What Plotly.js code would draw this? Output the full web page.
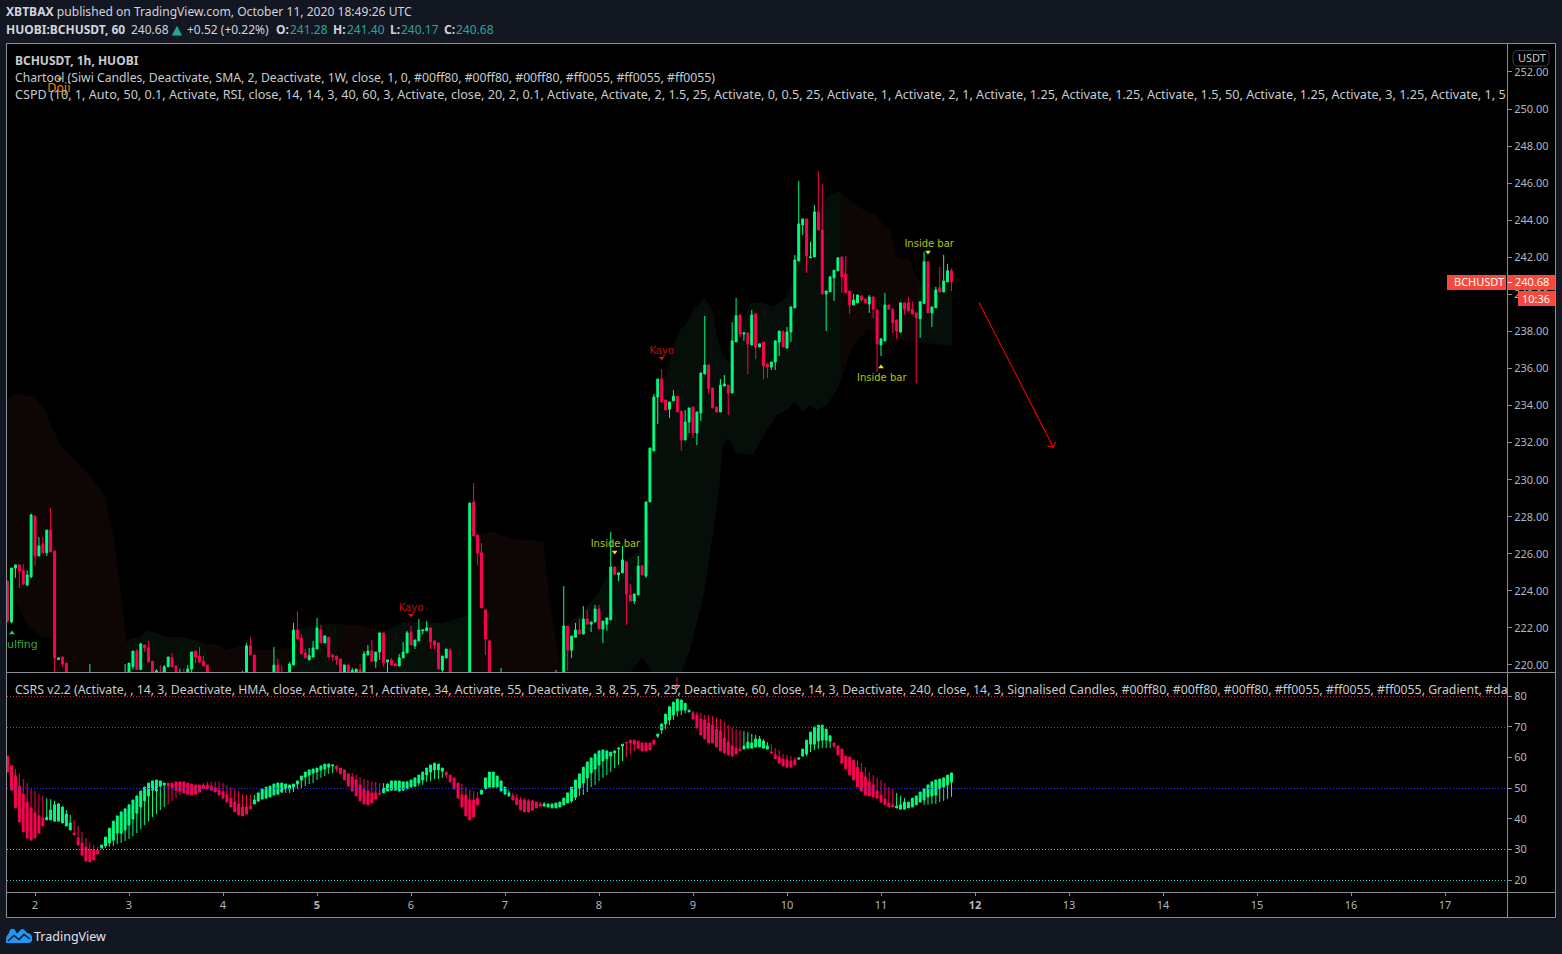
<!DOCTYPE html>
<html><head><meta charset="utf-8">
<script src="https://cdn.plot.ly/plotly-3.0.1.min.js"></script>
<style>html,body{margin:0;padding:0;background:#131722;overflow:hidden}#c{width:1562px;height:954px}</style>
</head><body><div id="c"></div>
<script>
// ---------- price candles (bar 0 .. 241) ----------
const opens=[224.53,222.32,225.23,225.4,225.1,224.3,224.75,228.04,225.88,226.53,
226.05,227.28,226.15,220.3,220.43,220.1,219.3,218.9,218.6,218.8,
218.5,218.9,219.3,218.8,218.6,218.7,218.5,218.6,218.4,218.7,
219,219.4,219.9,220.75,219.75,221.08,220.92,220.2,219.4,219.6,
219.3,219.9,220.38,219.95,219.4,219.55,219.3,219.78,220.75,220.48,
220.2,220,219.4,219.1,218.9,219,218.8,218.6,218.8,218.7,
219.1,219.5,221.03,220.54,219.4,219.1,218.9,219.1,219.5,220,
219.5,219.3,219.2,220,221.89,221.46,220.65,220.27,220.43,220.86,
221.89,221.19,221.5,220.54,220.48,220.32,219.5,220,219.5,219.5,
219.73,219.6,220.54,220.75,220.2,220.7,221.73,220.16,220.27,220.05,
219.95,220.38,220.65,221.78,221.03,221.3,221.84,221.84,222,221.3,
221.19,219.73,220.38,220.8,219.4,219,218.8,218.7,219.1,228.8,
227,226.05,222.97,221.3,219.3,218.9,218.7,219.4,219,218.8,
218.6,218.9,218.7,218.5,218.3,218.6,218.4,218.7,218.9,219.2,
218.9,219.1,219.3,222.1,220.8,221.5,221.89,221.67,222.48,222.2,
222.32,223.02,221.94,222.2,222.43,225.29,224.86,224.97,225.56,223.78,
223.45,223.78,225.34,224.8,228.8,231.55,234.46,235.43,234.3,233.8,
234.25,234.5,233.7,232.14,233.11,233.92,232.52,233.6,235.7,236.19,
234.95,233.92,233.65,235.05,235.1,234.68,237.43,238.89,237.86,237.92,
237.27,238.95,237.16,237.43,236.24,236.08,236.35,237.43,237.97,237.1,
237.97,239.27,241.8,243.74,244.07,241.97,242.02,244.45,243.48,240.02,
240.13,240.89,241.27,242.02,241.1,240.18,239.43,239.54,239.9,239.75,
239.48,239.86,239.16,237.27,237.49,239.43,239.2,238.62,237.97,239.54,
239.54,239.2,239,238.68,239.5,241.76,239,239.27,240.35,240.13,
240.67,241.28];
const highs=[224.53,225.23,225.4,225.4,225.45,225.1,228.15,228.04,226.9,226.9,
227.28,228.47,226.15,220.38,220.43,220.1,219.5,219.2,219,219.2,
219,220.05,219.5,219.1,219,219.1,218.9,219,218.9,219.2,
220.05,220.1,220.75,220.85,221.2,221.08,221.3,220.2,219.78,220,
220,220.43,220.65,219.95,219.8,219.8,220,220.7,220.75,220.97,
220.48,220,219.5,219.4,219.3,219.4,219.1,219,219.2,219.2,
219.68,221.19,221.5,220.54,219.5,219.4,219.3,219.5,220.97,220.32,
219.95,219.5,220.16,222.27,222.9,221.67,220.86,220.92,221.3,222.54,
222.16,221.62,221.5,220.54,220.48,220.32,220,220,219.84,219.78,
220.05,220.75,221.08,221.35,220.7,221.73,221.73,220.27,220.38,220.1,
220.6,221.24,221.84,222.1,221.35,222.48,221.89,222.37,222,221.3,
221.19,220.48,220.86,220.92,219.5,219.3,219.1,219.2,228.74,229.82,
227.05,226.58,222.97,221.3,219.4,219.2,219.84,219.5,219.3,219.1,
219,219.2,219,218.9,218.8,219,218.8,219.1,219.3,219.5,
219.73,219.4,224.26,222.1,221.56,222.27,222.48,223.18,222.97,222.32,
223.24,223.24,222.37,222.54,227.18,225.29,224.97,226.42,225.56,224.37,
223.83,225.88,225.4,228.8,231.71,234.62,235.43,235.97,234.3,234.19,
234.84,234.5,233.7,233.76,233.87,233.92,233.65,235.76,238.84,236.19,
234.95,233.92,235.43,235.65,235.1,238.5,239.8,238.89,237.92,237.92,
239.16,238.95,237.33,237.43,236.24,236.35,237.49,238.02,238.08,238.24,
239.32,242.13,246.12,244.07,244.07,242.83,244.83,246.66,245.96,240.18,
241,241.3,242.02,242.02,242.07,240.18,240.02,239.97,239.97,239.75,
239.97,239.86,239.16,237.6,240.08,239.43,239.2,238.62,239.54,239.54,
239.86,239.6,239,239.6,242.3,241.76,239.32,240.4,241.48,242.13,
241.65,241.4];
const lows=[222.3,222.25,224.7,224.15,224.3,224.3,224.7,225.35,225.88,226.05,
225.88,226.1,219.3,220.3,219.9,218.9,218.7,218.4,218.2,218.3,
218.1,218.6,218.6,218.4,218.2,218.2,218,218.2,218.1,218.4,
218.8,219.2,219.75,219.75,219.75,220.7,220.16,219.2,219.2,219,
219.1,219.9,219.85,219.1,219.1,219.1,219.1,219.6,220.1,220.1,
219.95,219.1,218.9,218.7,218.6,218.7,218.4,218.3,218.5,218.5,
218.9,219.3,220.54,219.1,218.9,218.7,218.6,218.8,219.3,219.2,
219.1,219,219,220,221.4,220.6,220.38,220.27,220.43,220.86,
221.19,221.19,220.43,220.2,220,219.2,219.3,219.2,219.1,219.3,
219.3,219.5,220.54,220.2,219.84,220.27,219.9,219.6,220,219.95,
219.95,220.38,220.65,221.08,220.86,221.3,221.67,221.84,220.86,220.86,
219.78,219.6,220.38,218.9,218.8,218.5,218.4,218.5,218.9,226.96,
225.4,223.08,220.54,218.8,218.6,218.5,218.5,218.7,218.6,218.4,
218.3,218.5,218.4,218.1,218,218.3,218,218.4,218.6,218.8,
218.7,218.8,219.2,219.68,220.38,221.5,221.67,221.67,222.2,221.78,
222.32,221.94,221.19,221.84,222.43,224.86,224.53,224.97,222.16,223.45,
223.29,223.78,224.86,224.7,228.8,231.55,233,234.19,233.76,233.33,
234.25,233.65,231.55,232.14,232.52,232.25,231.87,233.17,235.7,234.62,
233.87,233.65,233.65,235.05,233.49,234.68,237.43,237.7,237.49,235.7,
237.27,236.5,237.16,235.43,235.49,235.92,235.92,236.67,237.16,237.1,
237.43,239.27,241.8,243.2,241.15,241.97,242.02,243.48,240.02,238.02,
240.13,239.64,241.27,240.08,240.08,238.94,239.43,239.54,239.6,239.54,
239,238.73,235.81,236.67,237.49,239.2,237.92,237.6,237.92,238.9,
239.1,238.94,235.2,237.65,239.5,239,238.24,239.27,240.13,240.13,
240.67,240.17];
const closes=[222.37,225.23,225.4,225.07,224.37,224.86,228.1,225.88,226.42,226.05,
227.28,226.1,220.38,220.38,220.05,219.3,218.9,218.6,218.8,218.5,
218.9,219.3,218.8,218.6,218.7,218.5,218.6,218.4,218.7,219,
219.4,220.1,220.75,219.75,221.13,220.92,220.16,219.4,219.68,219.3,
219.9,220.43,219.9,219.4,219.55,219.3,219.78,220.7,220.43,220.16,
219.95,219.4,219.1,218.9,219,218.8,218.6,218.8,218.7,219.1,
219.4,221.03,220.54,219.4,219.1,218.9,219.1,219.5,220,219.5,
219.3,219.2,220.05,221.89,221.4,220.6,220.38,220.5,220.92,222,
221.19,221.56,220.43,220.43,220.27,219.5,220,219.5,219.7,219.78,
219.5,220.6,220.75,220.2,220.7,221.73,220.1,220.27,220,219.95,
220.38,220.7,221.73,221.08,221.35,221.89,221.89,222,221.24,221.08,
219.78,220.48,220.86,219.4,219,218.8,218.7,219.1,228.74,226.96,
226.05,223.08,221.4,219.3,218.9,218.7,219.4,219,218.8,218.6,
218.9,218.7,218.5,218.3,218.6,218.4,218.7,218.9,219.2,218.9,
219.1,219.3,222.1,220.8,221.56,221.89,221.67,222.48,222.2,222.32,
223.02,221.94,222.37,222.54,225.29,224.9,224.97,225.67,223.83,223.45,
223.83,225.34,224.86,228.8,231.71,234.46,235.43,234.19,233.76,234.19,
234.5,233.65,232.14,233.11,233.87,232.52,233.65,235.76,236.19,234.9,
233.87,233.65,235.1,235.16,234.68,237.49,238.84,237.86,237.92,237.33,
238.89,237.16,237.33,236.14,236.08,236.35,237.49,238.02,237.16,237.97,
239.32,241.86,243.8,244.07,242.07,242.02,244.45,243.48,240.02,240.18,
240.94,241.3,241.97,240.94,240.08,239.43,239.7,239.97,239.7,239.54,
239.86,239.2,237.33,237.6,239.43,239.2,238.46,238.02,239.54,239.2,
239.1,238.94,238.73,239.6,241.76,239,239.32,240.24,240.13,240.72,
241.27,240.68];

// ---------- CSRS oscillator candles ----------
const rsiOpen=[60.4,57.2,53.9,50.6,48,45.4,43.5,41.8,40.9,40.2,
39.6,39.6,39.2,39.2,38.6,37.6,36.3,35.3,33.7,32,
30.8,29.8,29.8,29.8,30.4,31.1,32.1,33,35.3,35.3,
36.3,37.9,39.9,41.8,43.8,45.8,47.4,49.3,49,50.6,
51,51.6,51.6,52,52,52,51.6,51.3,51,51,
51,51,50.6,50,49.3,48.7,47.7,46.7,45.4,44.8,
43.8,43.8,44.1,44.8,45.7,46.4,46.7,47.1,47.7,48,
48.7,49.7,49.7,50.3,51.3,52.6,53.6,54.2,54.9,55.2,
55.9,56.2,56.8,57.2,57.2,56.5,55.9,54.6,53.6,52.6,
51,49.7,49,48.4,48.4,48.4,48.4,49,49.3,49.3,
49,49.3,49.7,50.3,50.6,51.6,52.6,54.2,55.2,55.9,
55.9,55.5,55.2,54.2,53.3,51.6,47.7,47.7,46.1,46.1,
46.7,48,49.7,50.3,50.3,50.3,49,48,47.4,47.4,
46.7,46.1,46.1,45.8,45.8,45.4,44.8,44.1,43.8,43.5,
43.5,43.8,44.5,45.1,45.8,47,50,51.6,53.3,54.9,
56.2,57.5,58.8,59.5,60.4,61.4,62.7,63.7,65,65.6,
65.6,65.3,64.7,64.7,64.7,65.6,66.9,68.9,70.9,72.2,
73.8,75.1,75.4,75.4,74.8,74.5,73.8,72.5,72.2,71.2,
70.5,69.2,68.6,66.3,65,63.7,63,62.7,62.7,63,
63,63.4,63.4,63,62.7,61.7,60.8,60.1,59.4,59.1,
58.8,59.1,59.4,60.4,61.1,64.3,64.3,65.3,65.6,65.6,
65.3,64.7,63.7,62.7,60.4,60.1,59.1,56.8,55.2,53.6,
52,51,49,47.7,46.4,45.1,44.5,43.5,43.1,43.1,
43.5,43.8,44.5,45.4,46.1,47.1,47.4,47.7,49.7,50.3,
51,51.9];
const rsiHigh=[60.4,57.5,56.2,54.6,52.9,51.6,49.7,49,48,47.4,
46.7,46.4,45.8,45.1,44,42.8,41.2,39.6,37.6,35.7,
33.7,32.4,31.4,30.8,31.4,34,36.9,39.2,40.9,42.2,
43.2,44.5,46.1,47.4,49,50.3,51.6,52.3,52.6,52.3,
51.6,51.6,51.6,52,52,52,51.6,51.3,51,51,
51.6,52,52,52,52,51.6,51,50.3,49.7,49,
48,47.7,47.7,47.7,48.4,49.7,50.3,50.6,51.3,51.6,
51.6,51.3,51,51.3,52.3,53.9,55.2,55.9,56.2,56.5,
57.2,57.8,57.8,57.5,57.2,56.5,55.9,54.6,54.9,54.2,
53.6,52.9,52.6,52,52,51.6,51.6,51.6,52.3,52.3,
52.3,52,52,52.6,53.3,54.2,55.2,56.5,57.5,58.1,
57.8,56.5,55.2,54.2,53.3,51.6,51.3,50.3,49.3,49,
48.7,49.3,53.3,55.2,55.2,53.9,52.3,50.3,49.3,48.4,
48,47,46.7,46.4,46.1,45.4,45.4,45.4,44.8,44.8,
45.1,45.4,46.7,48.4,50.3,52.6,54.6,56.8,58.5,59.8,
61.1,62.1,62.4,62.1,61.7,62.1,63,64.3,65,65.6,
65.6,65.3,64.7,64.7,64.7,65.6,67.6,70.9,74.1,76.5,
78,79,78.7,77.6,75.4,75.1,74.8,74.5,73.8,73.8,
73.5,72.8,72.5,71.5,70.5,69.6,69.2,68.9,68.6,68.2,
67.6,67.3,67,66,65,64.3,63,62.4,61.1,60.8,
60.4,60.1,59.8,62.7,65.6,68.2,69.9,70.5,70.5,69.2,
67,64.7,63.7,62.7,60.4,60.1,59.1,59,58.1,56.8,
55.2,54.2,53.3,52.6,51.6,50.3,49.7,48.4,47.4,46.7,
45.4,46.7,47.4,48.7,49.7,51,52,52.6,52.9,53.3,
54.2,54.9];
const rsiLow=[55.2,49.3,43.5,38.9,35.7,33.7,33,33.7,35.3,37.6,
39.6,39.6,39.2,39.2,38.6,37.6,36.3,34.7,31.4,28.1,
26.2,25.9,26.5,28.5,30.4,30.4,30.8,31.1,31.7,32.1,
32.7,33.4,34.3,35.3,36.6,37.9,39.2,40.5,41.5,42.8,
43.8,44.8,45.8,46.7,47.7,48.4,48,47.7,48,48.7,
49.7,49.7,49.3,48.7,47.7,46.7,45.4,43.8,42.2,41.2,
40.9,41.5,43.2,44.8,45.7,46.4,46.7,47.1,47.7,48,
48.4,48.4,48.4,48.7,49.7,49.7,50.6,51.3,51.6,52.6,
53.3,53.9,54.6,54.9,55.2,54.6,52.6,50.6,49,47.4,
45.8,44.8,44.5,45.1,46.4,48,48.4,49,49.3,49.3,
49,49.3,49.7,50.3,50.6,50.6,51,52,52.3,52.9,
52.9,53.3,53.3,52,49.7,46.7,43.8,40.9,39.6,40.5,
44.5,48,49.7,50.3,50.3,50.3,49,48,47.4,46.1,
44.5,42.8,42.2,42.2,42.8,43.5,44.1,44.1,43.8,43.5,
43.5,43.8,44.5,45.1,45.1,46.1,47.4,47.7,48.7,50.3,
51,52.3,53.3,54.2,55.2,56.5,57.5,58.8,60.1,61.1,
62.1,62.7,62.1,62.1,62.4,64.3,66.3,67.6,69.2,70.5,
72.2,73.3,73.8,74.3,74.8,72.5,69.6,67.3,66,64.7,
64.7,63.4,62.1,61.4,60.8,60.4,61.1,62.1,62.7,63,
63,63.4,63.4,63,62.7,61.4,59.5,58.1,57.2,56.8,
56.8,57.5,59.4,60.4,60.4,61.7,62.4,62.7,63,63,
63,63,60.8,58.1,56.2,54.2,52.6,50.4,49,47.7,
47.4,47.1,46.7,45.4,44.5,43.8,43.8,43.5,43.1,43.1,
43.5,43.8,44.5,45.4,44.5,44.5,44.8,44.8,45.4,45.8,
46.4,47.1];
const rsiClose=[55.2,49.3,43.5,38.9,35.7,33.7,33,33.7,35.3,37.6,
40.5,42.8,44.5,44.8,43.8,41.5,38.6,34.7,31.4,28.1,
26.2,25.9,26.5,28.5,31.4,34,36.9,39.2,40.9,42.2,
43.2,44.5,46.1,47.4,49,50.3,51.6,52.3,52.6,52.3,
51.6,50.6,50,49.3,49,48.4,48,47.7,48,48.7,
49.7,49.7,49.3,48.7,47.7,46.7,45.4,43.8,42.2,41.2,
40.9,41.5,43.2,46.1,48.4,49.7,50.3,50.6,51.3,51.6,
51.6,51.3,51,51.3,52.3,53.9,55.2,55.9,56.2,56.5,
57.2,57.8,57.8,57.5,56.2,54.6,52.6,50.6,49,47.4,
45.8,44.8,44.5,45.1,46.4,48,50,51.3,52.3,52.3,
52.3,52,52,52.6,53.3,54.2,55.2,56.5,57.5,58.1,
57.8,56.5,54.2,52,49.7,46.7,43.8,40.9,39.6,40.5,
44.5,49.3,53.3,55.2,55.2,53.9,52.3,50.3,48.4,46.1,
44.5,42.8,42.2,42.2,42.8,43.5,44.1,44.8,44.8,44.8,
45.1,45.4,46.7,48.4,50.3,52.6,54.6,56.8,58.5,59.8,
61.1,62.1,62.4,62.1,61.7,62.1,63,64.3,64.7,64.7,
64.3,63,62.1,62.1,62.4,64.3,67.6,70.9,74.1,76.5,
78,79,78.7,77.6,75.4,72.5,69.6,67.3,66,64.7,
64.7,63.4,62.1,61.4,60.8,60.4,61.1,62.1,63.7,65,
64.7,66,66,65.3,63.7,61.4,59.5,58.1,57.2,56.8,
56.8,57.5,59.8,62.7,65.6,68.2,69.9,70.5,70.5,69.2,
67,63.7,60.8,58.1,56.2,54.2,52.6,50.4,49,47.7,
47.4,47.1,46.7,45.4,44.5,43.8,43.8,44.1,44.5,45.4,
45.4,46.7,47.4,48.7,49.7,51,52,52.6,52.9,53.3,
54.2,54.9];

// ---------- cloud outlines: x in bar number, y in price ----------
const cloudFloor=219;
const redCloudAX=[-0.15,3.2,7,9.5,13.4,17.2,21,24.9,26.9,29.2,30.5,30.5,12.9,11.6,9,5.2,1.9,-0.15];
const redCloudAY=[234.41,234.62,234.46,233.76,231.87,231.06,230.25,229.07,227.12,223.51,221.19,219,219,221.46,221.51,222.05,223.51,224.05];
const greenCloudBX=[30.5,31.3,33.8,35.6,38.1,40.7,44.8,47.3,50.9];
const greenCloudBY=[221.19,221.4,221.51,221.89,221.73,221.51,221.51,221.35,221.13];
const redCloudCX=[50.9,54.2,55.5,59.3,65,72.1];
const redCloudCY=[221.13,221.08,220.81,221.03,220.81,220.92];
const greenCloudDX=[72.1,72.9,79,83.1,84.2];
const greenCloudDY=[220.92,221.89,222.16,222.21,222.2];
const redCloudEX=[84.2,90,91.7,96.3];
const redCloudEY=[222.2,222.16,222.05,221.89];
const greenCloudFX=[96.3,101,106,110.4,113.7,117.8];
const greenCloudFY=[221.89,222.27,222.32,222.27,222.43,222.7];
const redCloudGX=[117.8,118.8,123.9,129,136.7,138.5,141];
const redCloudGY=[222.7,227.02,227.18,226.8,226.69,223.35,220.11];
const greenCloudHTopX=[141,142.5,146,150.5,153.8,161,164,165.2,166.6,168.3,169.9,171.7,173.4,175,178,179.9,181.4,182.6,184.5,187,189.5,192.9,195.4,199,202.3,206.1,209.2,212,213];
const greenCloudHTopY=[220.11,222.1,222.7,223.78,225.13,226.1,229.44,234.3,235.06,235.76,237.16,238.08,238.46,239.16,239.81,239.16,237.54,236.62,236.3,238.08,239.54,239.54,239.32,239.86,242.02,244.02,245.26,245.58,245.47];
const greenCloudHLowX=[213,211.7,209.2,206.6,204.9,203.1,201,199,196.4,193.9,190.3,186.2,183.9,182.6,181.9,180.6,178,174.2,172.1,164.5,163.4,162,160.4,158.9,141];
const greenCloudHLowY=[235.54,234.84,234.03,233.76,234.03,233.65,234.19,233.76,233.49,232.68,231.33,231.44,232.25,231.76,229.98,227.82,224.05,220.81,219.6,219.6,220,220.38,220,219.6,219];
const redCloudIX=[213,215.8,219.4,221.9,223.5,225.3,227.1,230.4,232.2,232.2,227.8,224,220.9,219.4,215.8,213];
const redCloudIY=[245.47,244.93,244.45,244.28,243.74,243.47,242.02,241.86,240.94,237.43,237.54,237.27,237.97,238.08,237.16,235.54];
const greenCloudJX=[232.2,234.2,241.2,241.2,232.2];
const greenCloudJY=[240.94,240.24,240.78,237.21,237.43];

// ---------- signals, drawing tool ----------
const signalText=["Engulfing","Doji","Kayo","Kayo","Inside bar","Inside bar","Inside bar"];
const signalX=[1.1,13.1,103,167,155.2,223.2,235.3];
const signalY=[221.06,251.06,223.03,236.9,226.5,235.44,242.7];
const signalSize=[11,12,10,10,10,10,10];
const signalColor=["#35a835","#f08000","#c80a0a","#c80a0a","#b4c400","#b4c400","#b4c400"];
const tickSymbolX=[1.1,13.3,103,167,155,223,235];
const tickSymbolY=[221.73,251.62,222.7,236.57,226.1,236.08,242.29];
const tickSymbol=["triangle-up","triangle-down","triangle-down","triangle-down","triangle-down","triangle-up","triangle-down"];
const tickSymbolColor=["#00e070","#f08000","#e01010","#e01010","#e6f000","#e6f000","#e6f000"];
const trendX=[248,267,265.4,267,267.6];
const trendY=[239.58,231.75,231.82,231.75,232.05];
const csrsArrowX=[170.9,170.9];
const csrsArrowY=[86.2,83.0];

const dayTicks=[2,3,4,5,6,7,8,9,10,11,12,13,14,15,16,17];
const boldDays=[5,12];
const priceTicks=[220,222,224,226,228,230,232,234,236,238,240,242,244,246,248,250,252];
const csrsTicks=[20,30,40,50,60,70,80];
const csrsLevels=[{v:80,c:"#d81e4c"},{v:70,c:"#d81e4c"},{v:50,c:"#2a30ff"},{v:30,c:"#1fd0c8"},{v:20,c:"#1fd0c8"}];

// ---------- page geometry (pixels) ----------
const W=1562,H=954,L=7,R=1507,AX=1555,T=44,P1=672,P2=673,B=892,TA=917;
const fx=p=>p/W, fy=p=>1-p/H;
const bars=opens.map((_,i)=>i);
const tickBars=dayTicks.map(d=>7+24*(d-2));
const tickLabels=dayTicks.map(d=>boldDays.includes(d)?"<b>"+d+"</b>":String(d));
const GREEN="#00ff80",RED="#ff0055",REDC="rgb(14,5,5)",GREENC="rgb(5,14,8)";
const csrsRange=[16.09,87.5];
const csrsPx=v=>Math.round(B-(v-csrsRange[0])/(csrsRange[1]-csrsRange[0])*(B-P2))+0.5;

function cloudShape(x,y,c){
  return {type:"path",xref:"x",yref:"y",path:"M"+x.map((v,i)=>v+","+y[i]).join(" L")+" Z",fillcolor:c,line:{width:0},layer:"below"};
}
function floored(x,y,c){return cloudShape(x.concat([x[x.length-1],x[0]]),y.concat([cloudFloor,cloudFloor]),c);}
const cloudShapes=[
 cloudShape(redCloudAX,redCloudAY,REDC),
 floored(greenCloudBX,greenCloudBY,GREENC),
 floored(redCloudCX,redCloudCY,REDC),
 floored(greenCloudDX,greenCloudDY,GREENC),
 floored(redCloudEX,redCloudEY,REDC),
 floored(greenCloudFX,greenCloudFY,GREENC),
 floored(redCloudGX,redCloudGY,REDC),
 cloudShape(greenCloudHTopX.concat(greenCloudHLowX),greenCloudHTopY.concat(greenCloudHLowY),GREENC),
 cloudShape(redCloudIX,redCloudIY,REDC),
 cloudShape(greenCloudJX,greenCloudJY,GREENC)
];
const traces=[
 {type:"candlestick",x:bars,open:opens,high:highs,low:lows,close:closes,xaxis:"x",yaxis:"y",whiskerwidth:0,
  increasing:{line:{color:GREEN,width:1},fillcolor:GREEN},decreasing:{line:{color:RED,width:1},fillcolor:RED},showlegend:false,hoverinfo:"skip"},
 {type:"candlestick",x:bars,open:rsiOpen,high:rsiHigh,low:rsiLow,close:rsiClose,xaxis:"x2",yaxis:"y2",whiskerwidth:0,
  increasing:{line:{color:GREEN,width:1},fillcolor:GREEN},decreasing:{line:{color:RED,width:1},fillcolor:RED},showlegend:false,hoverinfo:"skip"},
 {type:"scatter",mode:"lines",x:trendX,y:trendY,line:{color:"#f00000",width:1.1},xaxis:"x",yaxis:"y",showlegend:false,hoverinfo:"skip"},
 {type:"scatter",mode:"lines+markers",x:csrsArrowX,y:csrsArrowY,line:{color:"#c8145a",width:1},marker:{symbol:"triangle-down",size:[0,5],color:"#c8145a"},xaxis:"x2",yaxis:"y2",showlegend:false,hoverinfo:"skip"},
 {type:"scatter",mode:"markers",x:tickSymbolX,y:tickSymbolY,marker:{symbol:tickSymbol,size:5,color:tickSymbolColor},xaxis:"x",yaxis:"y",showlegend:false,hoverinfo:"skip"},
 {type:"scatter",mode:"text",x:signalX,y:signalY,text:signalText,textposition:"middle center",textfont:{family:"DejaVu Sans",size:signalSize,color:signalColor},xaxis:"x",yaxis:"y",showlegend:false,hoverinfo:"skip"}
];

function rectP(x0,y0,x1,y1,fill,layer,line){return {type:"rect",xref:"paper",yref:"paper",x0:fx(x0),x1:fx(x1),y0:fy(y0),y1:fy(y1),fillcolor:fill,line:line||{width:0},layer:layer||"below"};}
function lineP(x0,y0,x1,y1,c,layer){return {type:"line",xref:"paper",yref:"paper",x0:fx(x0),x1:fx(x1),y0:fy(y0),y1:fy(y1),line:{color:c,width:1},layer:layer||"above"};}
function pathP(cmds,fill,line,layer){
  const s=cmds.map(c=>{let o=c[0];for(let i=1;i<c.length;i+=2){o+=(i>1?" ":"")+fx(c[i]).toFixed(5)+","+fy(c[i+1]).toFixed(5);}return o;}).join(" ");
  return {type:"path",xref:"paper",yref:"paper",path:s,fillcolor:fill,line:line||{width:0},layer:layer||"above"};
}
const GRID="#8a8d93";
const shapes=[
 rectP(L,T,AX,TA,"#000000","below"),
 ...cloudShapes,
 lineP(6.5,43.5,AX+.5,43.5,GRID),lineP(6.5,43.5,6.5,TA+.5,GRID),lineP(AX+.5,43.5,AX+.5,TA+.5,GRID),lineP(6.5,TA+.5,AX+.5,TA+.5,GRID),
 lineP(R+.5,43.5,R+.5,TA+.5,GRID),lineP(6.5,672.5,AX+.5,672.5,GRID),lineP(6.5,892.5,AX+.5,892.5,GRID),
 ...csrsLevels.map(l=>({type:"line",xref:"paper",yref:"paper",x0:fx(L),x1:fx(R),y0:fy(csrsPx(l.v)),y1:fy(csrsPx(l.v)),line:{color:l.c,width:1,dash:"1px,2px"},layer:"above"})),
 rectP(1447,275,1506,290,"#f6483b","above"),
 rectP(1508,275,AX,290,"#f6483b","above"),
 rectP(1518,291,AX,306,"#f6483b","above"),
 lineP(1508,282.5,1512,282.5,"#ffffff"),
 pathP([["M",1517,50.5],["L",1545,50.5],["Q",1549,50.5,1549,54.5],["L",1549,62],["Q",1549,66,1545,66],["L",1517,66],["Q",1513,66,1513,62],["L",1513,54.5],["Q",1513,50.5,1517,50.5],["Z"]],"rgba(0,0,0,0)",{color:"#363a45",width:1}),
 pathP([["M",6,943],["L",28,943],["Q",33,943,32,937],["Q",31,933,27,933],["L",24.5,930],["Q",22,928,20,930.5],["L",17,933.5],["L",15,930],["Q",13,927.5,10,930],["L",8.5,934],["Q",5.5,936,6,943],["Z"]],"#2196f3",null),
 {type:"path",xref:"paper",yref:"paper",path:"M"+[[8,941],[14,935.5],[19,939.5],[24,934.5],[30,939]].map(p=>fx(p[0]).toFixed(5)+","+fy(p[1]).toFixed(5)).join(" L"),line:{color:"#131722",width:1.5},layer:"above"}
];

function txt(x,y,s,size,color,opts){
  return Object.assign({xref:"paper",yref:"paper",x:fx(x),y:fy(y),text:s,showarrow:false,xanchor:"left",yanchor:"middle",borderpad:0,borderwidth:0,
    font:{family:"Noto Sans",size:size,color:color}},opts||{});
}
const HC="#d1d4dc",TEAL="#26a69a",LG="#c9cbcf";
const annotations=[
 txt(6,12,'<b>XBTBAX</b> published on TradingView.com, October 11, 2020 18:49:26 UTC',12.1,HC),
 txt(6,29,'<b>HUOBI:BCHUSDT, 60</b>',12,HC),
 txt(131,29,'240.68',12,HC),
 {...txt(172,29,'▲',13,TEAL),font:{family:"DejaVu Sans",size:13,color:TEAL}},
 txt(187,29,'+0.52 (+0.22%)',12,HC),
 txt(276,29,'<b>O:</b>',12,HC),txt(290,29,'241.28',12,TEAL),
 txt(333,29,'<b>H:</b>',12,HC),txt(347,29,'241.40',12,TEAL),
 txt(390,29,'<b>L:</b>',12,HC),txt(401,29,'240.17',12,TEAL),
 txt(444,29,'<b>C:</b>',12,HC),txt(456,29,'240.68',12,TEAL),
 txt(15,60.5,'<b>BCHUSDT, 1h, HUOBI</b>',12,LG),
 txt(15,77,'Chartool (Siwi Candles, Deactivate, SMA, 2, Deactivate, 1W, close, 1, 0, #00ff80, #00ff80, #00ff80, #ff0055, #ff0055, #ff0055)',12.2,LG),
 txt(15,94,'CSPD (10, 1, Auto, 50, 0.1, Activate, RSI, close, 14, 14, 3, 40, 60, 3, Activate, close, 20, 2, 0.1, Activate, Activate, 2, 1.5, 25, Activate, 0, 0.5, 25, Activate, 1, Activate, 2, 1, Activate, 1.25, Activate, 1.25, Activate, 1.5, 50, Activate, 1.25, Activate, 3, 1.25, Activate, 1, 5',12.62,LG),
 txt(15,689.5,'CSRS v2.2 (Activate, , 14, 3, Deactivate, HMA, close, Activate, 21, Activate, 34, Activate, 55, Deactivate, 3, 8, 25, 75, 25, Deactivate, 60, close, 14, 3, Deactivate, 240, close, 14, 3, Signalised Candles, #00ff80, #00ff80, #00ff80, #ff0055, #ff0055, #ff0055, Gradient, #da',12.32,LG),
 txt(1454,282,'BCHUSDT',11,"#ffffff"),
 txt(1515,282,'240.68',11,"#ffffff"),
 txt(1522,298,'10:36',11,"#ffffff"),
 txt(1518,58,'USDT',11,LG),
 txt(34,936,'TradingView',12.5,"#e0e3eb")
];

const axFont={family:"Noto Sans",size:11,color:"#b2b5be"};
const layout={
 width:W,height:H,margin:{l:0,r:0,t:0,b:0,pad:0},paper_bgcolor:"#131722",plot_bgcolor:"#000000",showlegend:false,hovermode:false,
 xaxis:{domain:[fx(L),fx(R)],range:[-0.15,382.83],anchor:"y",showgrid:false,zeroline:false,showticklabels:false,ticks:"",showline:false,rangeslider:{visible:false}},
 xaxis2:{domain:[fx(L),fx(R)],range:[-0.15,382.83],anchor:"y2",showgrid:false,zeroline:false,showline:false,rangeslider:{visible:false},
   tickmode:"array",tickvals:tickBars,ticktext:tickLabels,ticks:"outside",ticklen:3,tickcolor:GRID,tickfont:axFont,tickangle:0},
 yaxis:{domain:[fy(P1),fy(T)],range:[219.62,253.51],anchor:"x",side:"right",showgrid:false,zeroline:false,showline:false,
   tickmode:"array",tickvals:priceTicks,ticktext:priceTicks.map(v=>v.toFixed(2)),ticks:"outside",ticklen:4,tickcolor:GRID,tickfont:axFont},
 yaxis2:{domain:[fy(B),fy(P2)],range:csrsRange,anchor:"x2",side:"right",showgrid:false,zeroline:false,showline:false,
   tickmode:"array",tickvals:csrsTicks,ticktext:csrsTicks.map(String),ticks:"outside",ticklen:4,tickcolor:GRID,tickfont:axFont},
 shapes:shapes,annotations:annotations
};
Plotly.newPlot("c",traces,layout,{staticPlot:true,displayModeBar:false,responsive:false});
</script></body></html>
